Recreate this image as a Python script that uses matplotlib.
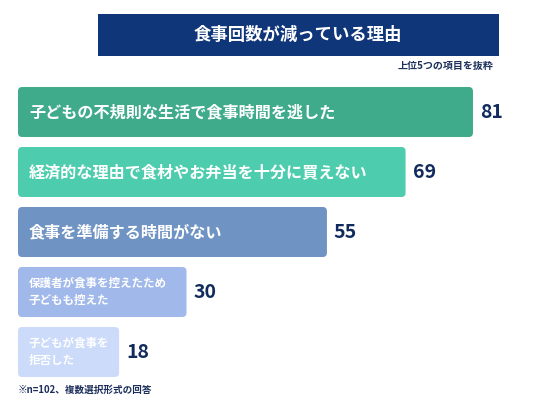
import matplotlib
matplotlib.use('Agg')
import matplotlib.pyplot as plt
from matplotlib.patches import FancyBboxPatch

plt.rcParams['font.family'] = ['Noto Sans CJK JP', 'DejaVu Sans']

# data
reasons = ['子どもの不規則な生活で食事時間を逃した',
           '経済的な理由で食材やお弁当を十分に買えない',
           '食事を準備する時間がない',
           '保護者が食事を控えたため\n子どもも控えた',
           '子どもが食事を\n拒否した']
counts = [81, 69, 55, 30, 18]
bar_colors = ['#3FAB8B', '#4DCDAD', '#6F93C2', '#A1B9EA', '#CCDBFA']
title = '食事回数が減っている理由'
subtitle = '上位5つの項目を抜粋'
note = '※n=102、複数選択形式の回答'

W, H = 536, 413
fig = plt.figure(figsize=(W / 100, H / 100), dpi=100)
fig.patch.set_facecolor('white')

# axes: x=0 at pixel 18, 5.617 px per unit; rows 60 px apart
ax_l, ax_r = 18, 536
ax_top, ax_bot = 82, 382
ax = fig.add_axes([ax_l / W, 1 - ax_bot / H, (ax_r - ax_l) / W, (ax_bot - ax_top) / H])
ax.set_xlim(0, (ax_r - ax_l) / 5.617)
ax.set_ylim(len(counts) - 0.5, -0.5)
ax.axis('off')

ypos = list(range(len(counts)))
bars = ax.barh(ypos, counts, height=50 / 60, color=bar_colors)

# swap plain rectangles for rounded ones
asp = (1 / 60) / (1 / 5.617)
for b, c in zip(bars, bar_colors):
    x0, y0, w, h = b.get_x(), b.get_y(), b.get_width(), b.get_height()
    b.set_visible(False)
    ax.add_patch(FancyBboxPatch((x0, y0), w, h,
                                boxstyle='round,pad=0,rounding_size=0.75',
                                mutation_aspect=asp, fc=c, ec='none'))

for i, (lab, v) in enumerate(zip(reasons, counts)):
    small = '\n' in lab
    ax.text(11 / 5.617, i, lab, color='white', va='center', ha='left',
            fontsize=8.3 if small else 11.6, fontweight='bold',
            linespacing=1.45)
    ax.text(v + 7 / 5.617, i, str(v), color='#112B5C', va='center', ha='left',
            fontsize=14, fontweight='bold')

# title box
fig.patches.append(plt.Rectangle((98 / W, 1 - 56 / H), (499 - 98) / W, 42 / H,
                                 transform=fig.transFigure, fc='#10367A', ec='none'))
fig.text(298 / W, 1 - 35 / H, title, color='white', ha='center', va='center',
         fontsize=12.5, fontweight='bold')
fig.text(493 / W, 1 - 66 / H, subtitle, color='#1B2F5A', ha='right', va='center',
         fontsize=7.2, fontweight='bold')
fig.text(18 / W, 1 - 390 / H, note, color='#1B2F5A', ha='left', va='center',
         fontsize=6.9, fontweight='bold')

fig.savefig('out.png', dpi=100, facecolor='white')
